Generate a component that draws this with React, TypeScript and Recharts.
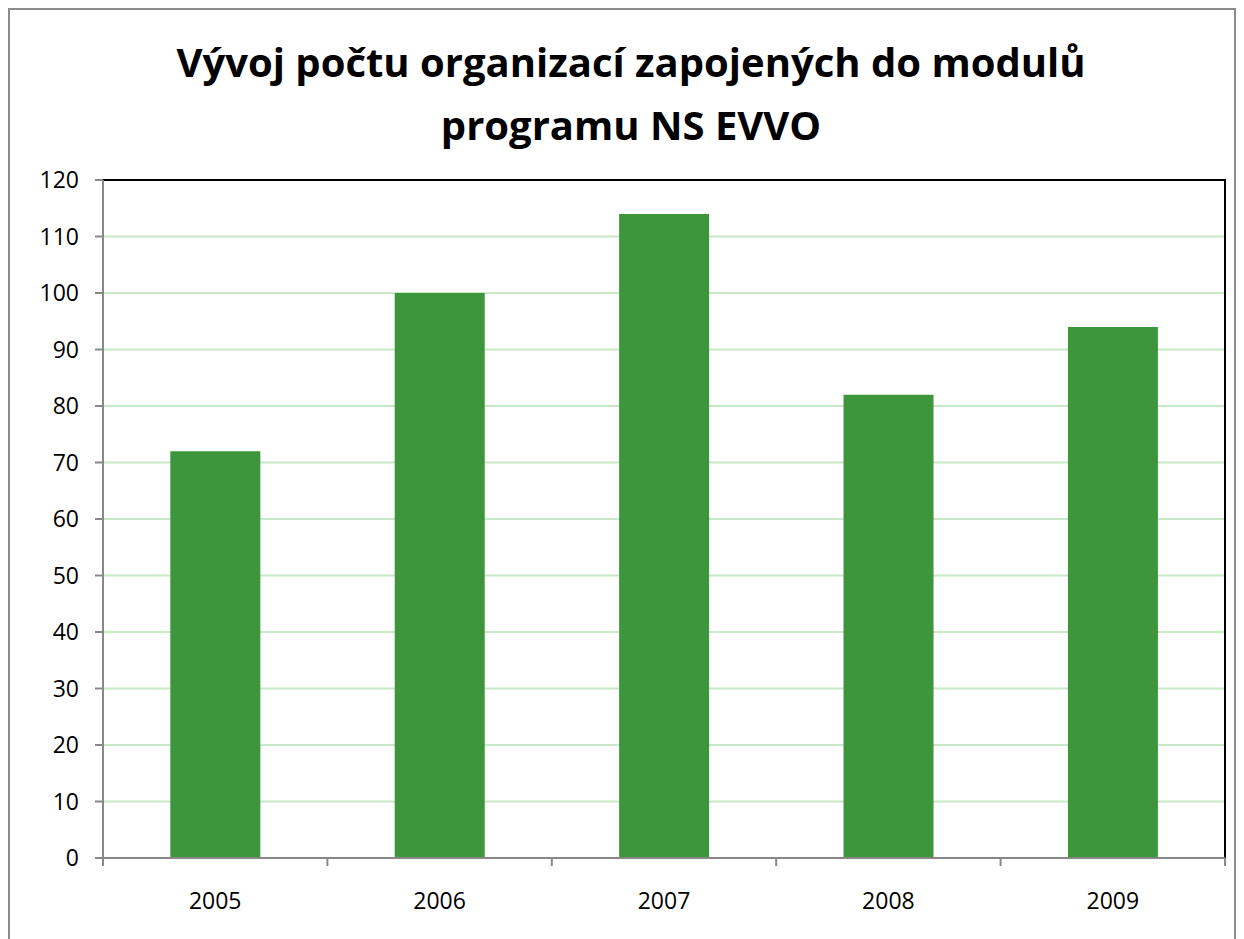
import { Bar, BarChart, CartesianGrid, ReferenceArea, XAxis, YAxis } from "recharts";

const years = ["2005", "2006", "2007", "2008", "2009"];
const organizations = [72, 100, 114, 82, 94];
const yTicks = [0, 10, 20, 30, 40, 50, 60, 70, 80, 90, 100, 110, 120];

const data = years.map((year, i) => ({ year, value: organizations[i] }));

const font = "'Open Sans', 'Noto Sans', sans-serif";

// category label plus a tick mark on the left edge of each band (and the right edge of the last)
function YearTick(props: any) {
  const { x, y, payload, index } = props;
  const half = payload.offset ?? 0;
  return (
    <g>
      <line x1={x - half} y1={y - 35} x2={x - half} y2={y - 27} stroke="#888" strokeWidth={2} />
      {index === years.length - 1 && (
        <line x1={x + half} y1={y - 35} x2={x + half} y2={y - 27} stroke="#888" strokeWidth={2} />
      )}
      <text x={x} y={y} dy="0.71em" textAnchor="middle" fill="#000" fontSize={23} fontFamily={font}>
        {payload.value}
      </text>
    </g>
  );
}

export default function App() {
  return (
    <div
      style={{
        position: "relative",
        width: 1228,
        height: 931,
        border: "2px solid #8c8c8c",
        borderBottom: "none",
        boxSizing: "border-box",
        background: "#fff",
      }}
    >
      <div
        style={{
          position: "absolute",
          top: 20,
          left: 9,
          width: "100%",
          textAlign: "center",
          fontFamily: font,
          fontWeight: 700,
          fontSize: 40,
          lineHeight: "63px",
          color: "#000",
        }}
      >
        Vývoj počtu organizací zapojených do modulů
        <br />
        programu NS EVVO
      </div>
      <div style={{ position: "absolute", left: -2, top: -2 }}>
        <BarChart
          width={1228}
          height={931}
          data={data}
          margin={{ top: 172, right: 11, left: 0, bottom: 0 }}
          barCategoryGap="30%"
        >
          <CartesianGrid vertical={false} stroke="#c8e8c8" strokeWidth={2} />
          <ReferenceArea x1="2005" x2="2009" y1={0} y2={120} fill="none" stroke="#000" strokeWidth={2} />
          <Bar dataKey="value" fill="#3d963b" isAnimationActive={false} />
          <XAxis
            dataKey="year"
            height={81}
            tickLine={false}
            axisLine={{ stroke: "#888", strokeWidth: 2 }}
            tick={<YearTick />}
            tickMargin={29}
            interval={0}
          />
          <YAxis
            width={95}
            domain={[0, 120]}
            ticks={yTicks}
            interval={0}
            tickSize={8}
            tickMargin={16}
            tickLine={{ stroke: "#888", strokeWidth: 2 }}
            axisLine={{ stroke: "#888", strokeWidth: 2 }}
            tick={{ fill: "#000", fontSize: 23, fontFamily: font }}
          />
        </BarChart>
      </div>
    </div>
  );
}
